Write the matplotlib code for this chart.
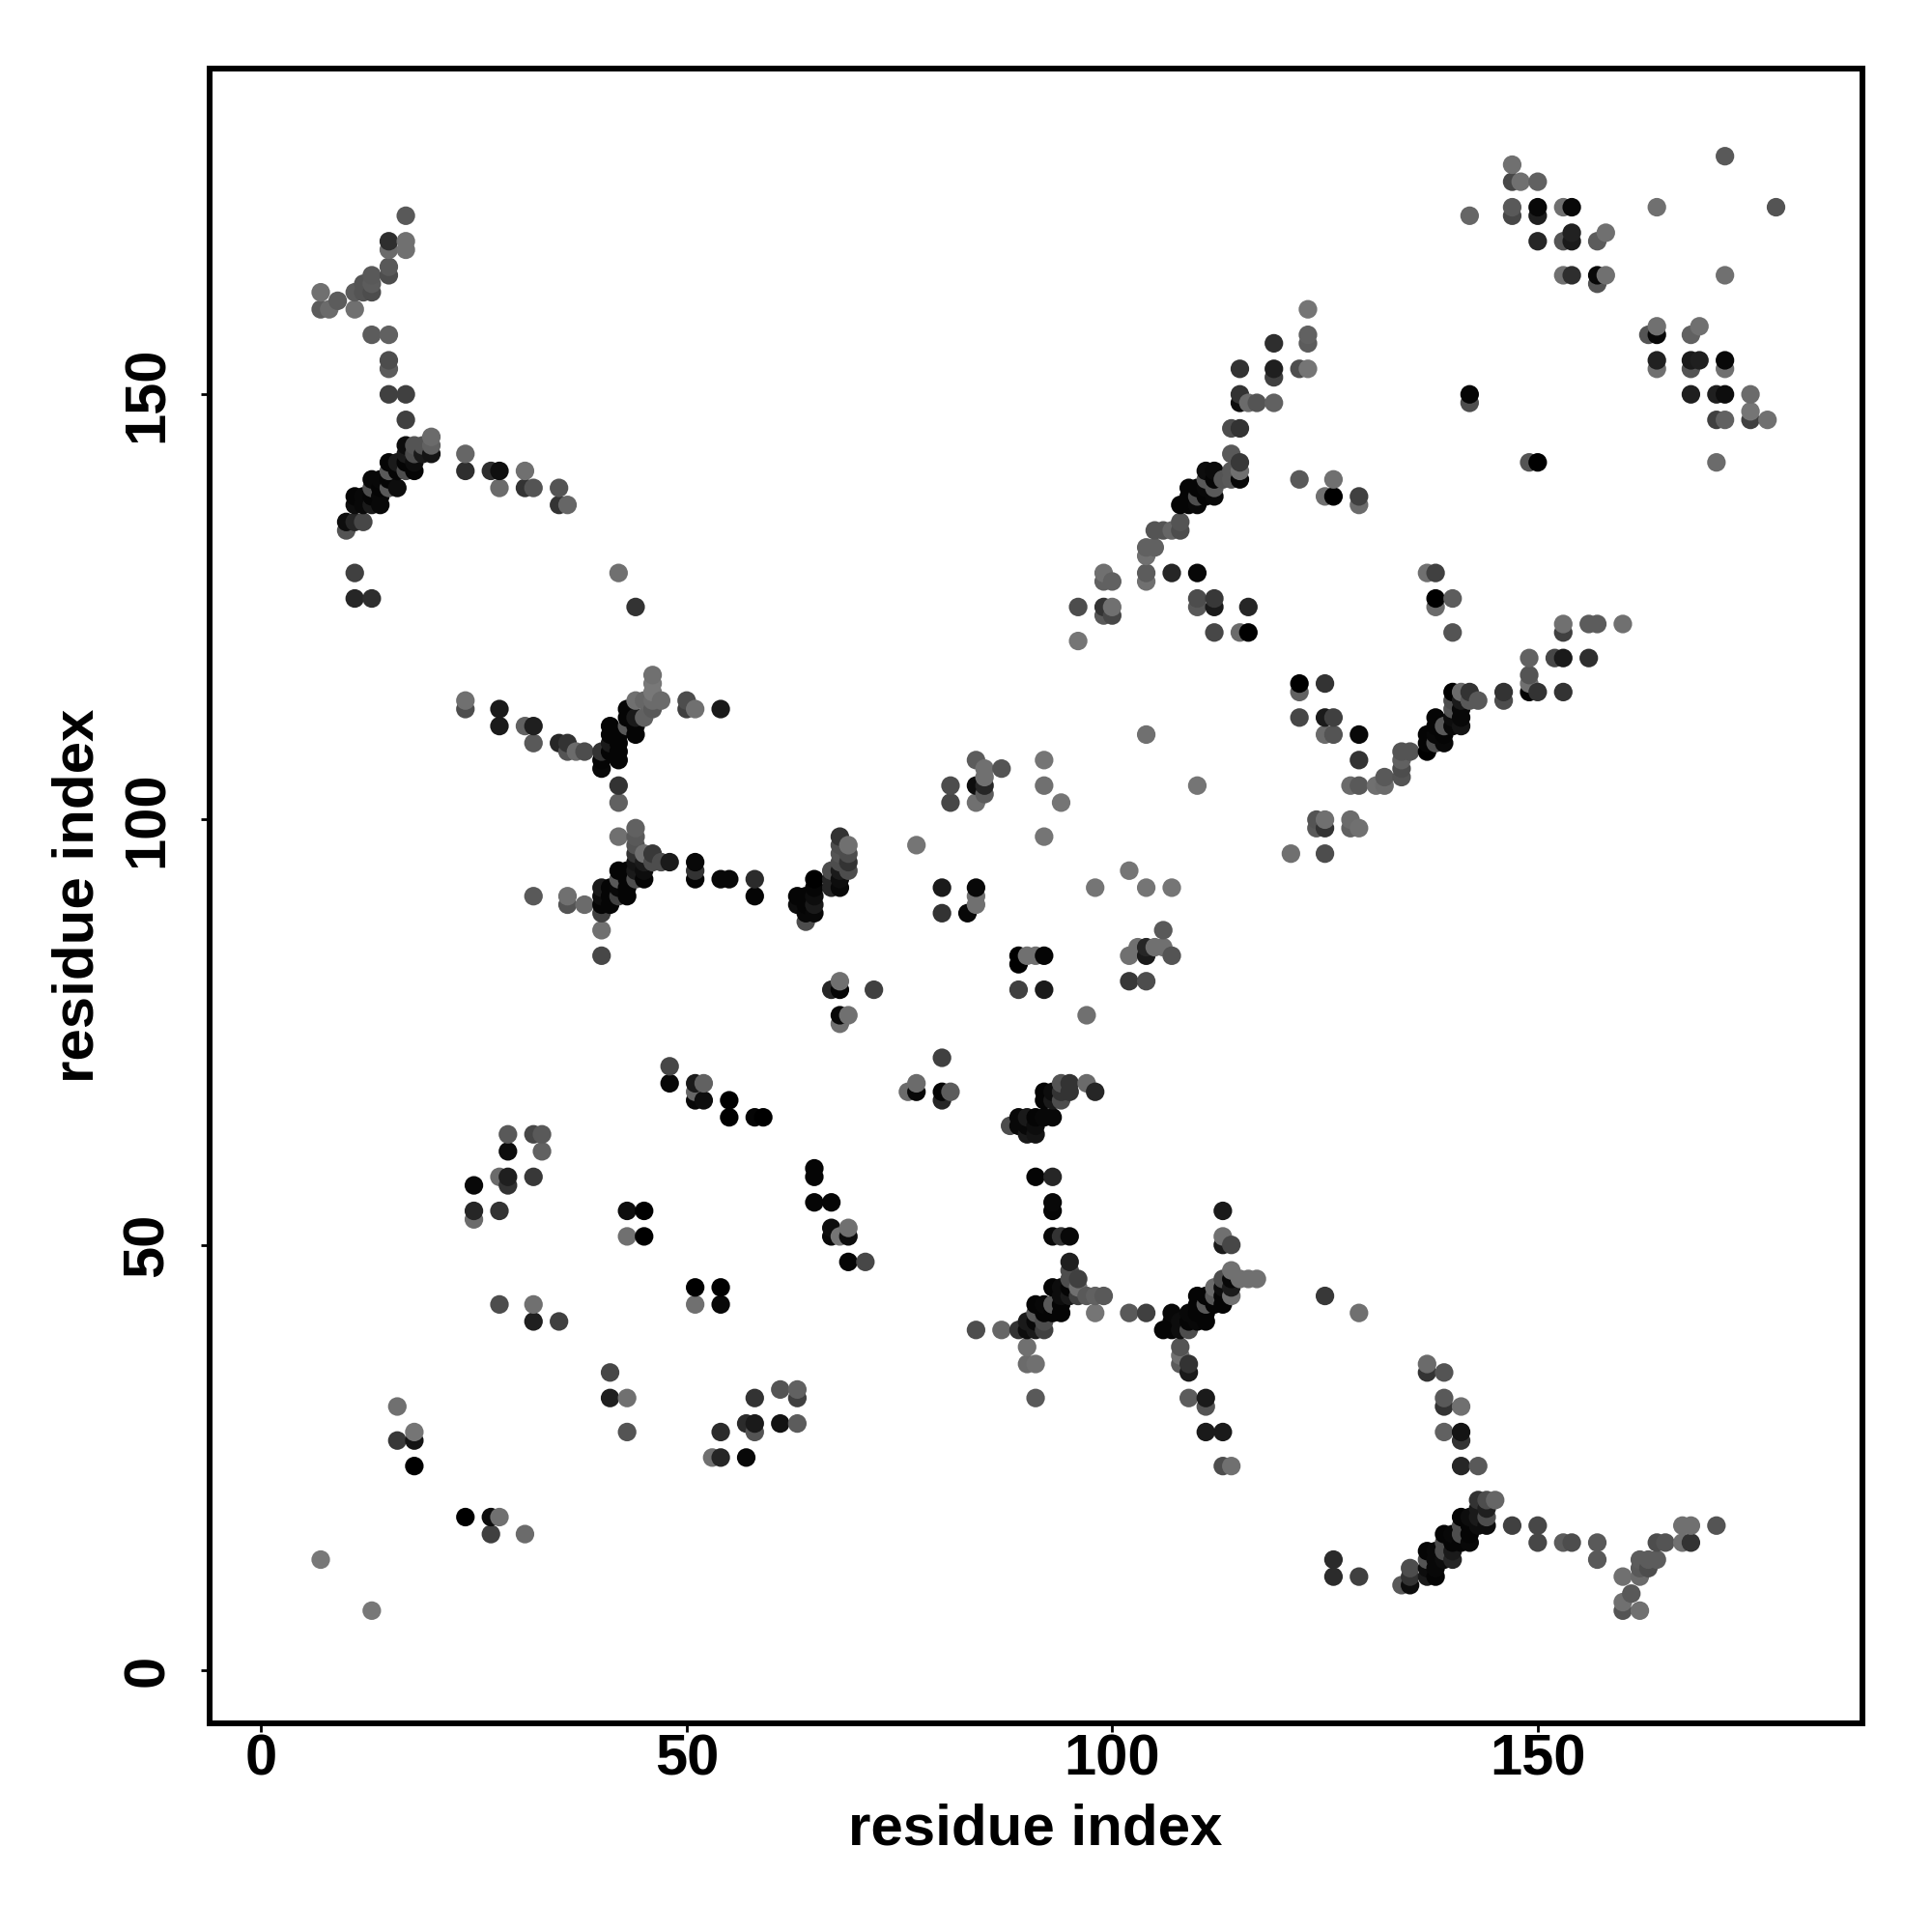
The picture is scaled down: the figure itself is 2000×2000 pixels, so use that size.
import matplotlib
matplotlib.use('Agg')
import matplotlib.pyplot as plt
import numpy as np

# (residue i, residue j, grey level), region by region
top_left = [(17,171,.35),(15,168,.18),(17,168,.44),(15,167,.42),(17,167,.44),(15,165,.35),(15,164,.3),
    (13,164,.35),(12,163,.33),(13,163,.36),(11,162,.36),(12,162,.33),(13,162,.3),(7,162,.44),(9,161,.36),
    (7,160,.36),(8,160,.42),(11,160,.44),(13,157,.36),(15,157,.38),(15,154,.3),(15,153,.36),(15,150,.25),
    (17,150,.25),(17,147,.25),(24,143,.4),(24,141,.18),(27,141,.18),(28,141,.06),(31,141,.44),(28,139,.42),
    (31,139,.2),(32,139,.33),(35,139,.33),(35,137,.2),(36,137,.4),(11,129,.25),(11,126,.15),(13,126,.18),
    (42,129,.44),(44,125,.2)]
top_left_helix = [(20,145,.42),(20,144,.38),(19,144,.33),(18,144,.33),(17,144,.05),(20,143,.08),(19,143,.1),
    (18,143,.3),(17,143,.1),(16,142,.1),(15,142,.02),(18,142,.05),(17,142,.02),(18,141,.02),(17,141,.3),
    (16,141,.02),(15,141,.35),(14,140,.03),(13,140,.03),(15,140,.02),(16,139,.05),(15,139,.35),(14,139,.02),
    (13,139,.3),(13,138,.02),(14,138,.03),(11,138,.02),(12,138,.03),(11,137,.05),(12,137,.03),(13,137,.1),
    (14,137,.03),(10,135,.05),(11,135,.15),(12,135,.28),(10,134,.33)]
upper_mid = [(123,160,.46),(123,157,.38),(123,156,.36),(119,156,.18),(115,153,.2),(119,153,.12),(119,152,.25),
    (122,153,.3),(123,153,.46),(115,150,.2),(115,149,.05),(116,149,.42),(117,149,.33),(119,149,.38),
    (114,146,.3),(115,146,.2),(114,143,.35),(115,142,.22),(115,141,.44),(115,140,.03),(114,141,.35),
    (114,140,.35),(122,140,.35),(108,135,.33),(108,134,.3),(107,134,.4),(106,134,.33),(105,134,.33),
    (105,132,.38),(104,132,.38),(104,131,.44),(104,129,.36),(104,128,.44),(107,129,.15),(110,129,.03),
    (99,129,.44),(99,128,.38),(100,128,.38),(96,125,.3),(99,125,.2),(100,125,.44),(99,124,.35),(100,124,.28),
    (110,126,.3),(110,125,.35),(112,126,.22),(112,125,.1),(116,125,.15),(112,122,.28),(115,122,.42),
    (116,122,.0),(96,121,.46)]
upper_mid_helix = [(111,141,.05),(112,141,.04),(112,140,.02),(113,140,.33),(111,140,.35),(109,139,.02),
    (110,139,.02),(111,139,.03),(112,139,.35),(109,138,.02),(110,138,.3),(111,138,.02),(112,138,.03),
    (108,137,.02),(109,137,.02),(110,137,.03)]
top_right = [(172,178,.35),(147,177,.44),(147,175,.28),(148,175,.44),(150,175,.38),(142,171,.4),(147,172,.35),
    (147,171,.28),(150,172,.03),(150,171,.12),(153,172,.44),(154,172,.03),(164,172,.44),(178,172,.33),
    (150,168,.15),(153,168,.33),(154,169,.13),(154,168,.1),(158,169,.44),(157,168,.36),(153,164,.44),
    (154,164,.18),(157,164,.03),(158,164,.44),(157,163,.33),(172,164,.44),(164,158,.44),(163,157,.33),
    (164,157,.03),(169,158,.44),(168,157,.38),(164,154,.13),(164,153,.44),(168,154,.1),(169,154,.12),
    (168,153,.33),(172,154,.03),(172,153,.44),(168,150,.12),(171,150,.12),(172,150,.05),(175,150,.42),
    (142,150,.02),(142,149,.3),(175,148,.46),(175,147,.25),(177,147,.44),(171,147,.25),(172,147,.38),
    (149,142,.33),(150,142,.0),(171,142,.42),(126,140,.44),(125,138,.44),(126,138,.0),(129,138,.25),
    (129,137,.42),(137,129,.44),(138,129,.25),(138,126,.0),(138,125,.42),(140,126,.36),(140,122,.33),
    (153,123,.44),(153,122,.25),(156,123,.36),(157,123,.36),(160,123,.44)]
mid_left = [(24,114,.44),(24,113,.3),(28,113,.1),(28,111,.1),(31,111,.38),(32,111,.12),(32,109,.35),(35,109,.15),
    (36,109,.2),(36,108,.33),(37,108,.42),(38,108,.3),(45,114,.4),(44,114,.44),(46,117,.44),(46,116,.47),
    (46,115,.47),(46,114,.42),(46,113,.35),(47,114,.42),(50,114,.3),(50,113,.25),(51,113,.44),(54,113,.1),
    (42,104,.2),(42,102,.38),(44,99,.38),(44,98,.35),(44,97,.33),(42,98,.44),(44,96,.2),(45,96,.44),
    (46,96,.22),(46,95,.3),(47,95,.3),(48,95,.1),(51,95,.03),(51,94,.2),(51,93,.02),(54,93,.03),(55,93,.03),
    (58,93,.17),(58,91,.02),(40,89,.25),(40,87,.44),(40,84,.28),(32,91,.35),(36,91,.44),(36,90,.33),(38,90,.42)]
mid_left_helix = [(40,108,.2),(40,107,.02),(40,106,.03),(41,111,.02),(41,110,.02),(41,109,.1),(41,108,.02),
    (42,107,.02),(42,109,.02),(42,110,.02),(42,108,.02),(43,113,.02),(43,112,.02),(43,111,.35),(44,112,.1),
    (44,111,.02),(44,110,.02),(45,112,.38),(44,95,.08),(45,95,.1),(42,94,.02),(43,94,.02),(44,94,.1),
    (45,94,.05),(42,93,.35),(43,93,.02),(44,93,.3),(45,93,.02),(40,92,.1),(41,92,.02),(42,92,.03),(43,92,.02),
    (40,91,.05),(41,91,.02),(42,91,.25),(43,91,.02),(40,90,.02),(41,90,.02)]
centre = [(122,116,.0),(122,115,.38),(122,112,.28),(125,116,.2),(125,112,.1),(126,112,.25),(125,110,.42),
    (126,110,.33),(129,110,.03),(104,110,.44),(84,107,.36),(85,106,.44),(87,106,.33),(85,105,.44),(84,104,.05),
    (85,104,.15),(81,104,.3),(81,102,.28),(84,102,.44),(85,103,.36),(92,107,.46),(92,104,.44),(94,102,.46),
    (110,104,.46),(92,98,.46),(77,97,.46),(80,92,.1),(84,92,.03),(84,91,.44),(84,90,.44),(80,89,.2),(83,89,.03),
    (98,92,.46),(102,94,.46),(104,92,.46),(107,92,.46),(106,87,.35),(102,84,.44),(103,85,.44),(104,85,.15),
    (104,84,.1),(105,85,.44),(106,85,.44),(107,84,.33),(102,81,.22),(104,81,.3),(89,84,.0),(90,84,.44),
    (91,84,.44),(92,84,.02),(89,83,.0),(89,80,.25),(92,80,.1),(97,77,.44),(68,81,.44),(67,80,.15),(68,80,.02),
    (72,80,.25),(68,77,.03),(69,77,.44),(68,76,.44),(80,72,.25),(76,68,.42),(77,69,.42),(77,68,.03),(80,68,.02),
    (81,68,.36),(80,67,.15),(94,69,.33),(95,69,.2),(97,69,.42),(98,68,.15)]
centre_clumps = [(68,98,.2),(68,97,.3),(69,97,.44),(68,96,.33),(69,96,.3),(69,95,.2),(69,94,.3),(68,95,.3),
    (68,94,.1),(67,94,.3),(67,93,.15),(68,93,.05),(67,92,.15),(68,92,.03),(65,93,.0),(65,92,.02),(63,91,.02),
    (64,91,.02),(65,91,.05),(63,90,.05),(64,90,.02),(65,90,.1),(64,89,.03),(65,89,.03),(64,88,.3),
    (92,68,.02),(92,67,.02),(93,68,.05),(93,67,.1),(94,68,.2),(94,67,.3),(95,68,.2),(93,65,.03),(92,65,.03),
    (91,65,.02),(90,65,.1),(89,65,.03),(89,64,.03),(88,64,.3),(90,64,.03),(91,64,.05),(90,63,.1),(91,63,.08)]
low_left = [(48,71,.28),(48,69,.03),(51,69,.1),(52,69,.38),(51,68,.4),(51,67,.03),(52,67,.05),(55,67,.0),(55,65,.0),
    (58,65,.02),(59,65,.0),(29,63,.35),(32,63,.28),(33,63,.35),(29,61,.05),(33,61,.38),(28,58,.42),(29,58,.12),
    (29,57,.2),(32,58,.22),(25,57,.03),(25,54,.15),(25,53,.42),(28,54,.2),(43,54,.05),(45,54,.0),(43,51,.44),
    (45,51,.0),(51,45,.0),(54,45,.0),(51,43,.44),(54,43,.03),(28,43,.3),(32,43,.44),(32,41,.12),(35,41,.25),
    (41,35,.28),(41,32,.12),(43,32,.44),(43,28,.33),(58,32,.2),(57,29,.17),(58,29,.1),(58,28,.33),(54,28,.17),
    (53,25,.44),(54,25,.15),(57,25,.03),(16,31,.44),(16,27,.22),(18,27,.08),(18,28,.46),(18,24,.0),(24,18,.0),
    (27,18,.05),(28,18,.44),(27,16,.25),(31,16,.42),(7,13,.47),(13,7,.47),(61,33,.33),(63,33,.38),(63,32,.25),
    (61,29,.07),(63,29,.36)]
low_mid = [(65,59,.02),(65,58,.02),(65,55,.02),(67,55,.02),(67,52,.05),(69,52,.44),(67,51,.03),(68,51,.46),
    (69,51,.05),(69,48,.02),(71,48,.28),(91,58,.02),(93,58,.15),(93,55,.03),(93,54,.02),(93,51,.03),(94,51,.2),
    (95,51,.03),(95,48,.12),(95,47,.3),(96,46,.25),(96,45,.44),(97,44,.35),(98,44,.38),(99,44,.35),(98,42,.46),
    (84,40,.3),(87,40,.4),(90,38,.44),(90,36,.42),(91,36,.44),(91,32,.35),(113,54,.1),(113,51,.44),(113,50,.1),
    (114,50,.28),(114,47,.44),(115,46,.44),(116,46,.44),(117,46,.44),(102,42,.35),(104,42,.25),(108,38,.33),
    (108,37,.44),(108,36,.36),(109,36,.2),(109,35,.1),(109,32,.36),(111,32,.1),(111,31,.33),(111,28,.1),
    (113,28,.1),(113,24,.3),(114,24,.44),(125,44,.22),(129,42,.44)]
low_mid_helix = [(95,46,.3),(93,45,.02),(94,45,.05),(95,45,.02),(94,44,.05),(95,44,.1),(96,44,.25),(91,43,.02),
    (92,43,.03),(93,43,.35),(94,43,.02),(91,42,.35),(92,42,.02),(93,42,.02),(94,42,.02),(90,41,.1),(91,41,.03),
    (92,41,.3),(89,40,.2),(90,40,.05),(91,40,.1),(92,40,.25),
    (113,46,.3),(114,46,.03),(112,45,.42),(113,45,.05),(114,45,.1),(114,44,.44),(113,44,.02),(112,44,.35),
    (110,44,.02),(111,44,.02),(110,43,.02),(111,43,.35),(112,43,.02),(113,43,.02),(107,42,.03),(109,42,.03),
    (110,42,.02),(111,42,.02),(107,41,.02),(108,41,.05),(109,41,.02),(110,41,.03),(111,41,.02),(106,40,.02),
    (107,40,.02),(108,40,.05),(109,40,.3)]
right_arm = [(125,96,.3),(121,96,.44),(124,100,.33),(124,99,.35),(125,100,.44),(125,99,.2),(128,100,.42),(128,99,.38),
    (129,99,.44),(129,107,.2),(128,104,.42),(129,104,.35),(131,104,.44),(132,104,.42),(132,105,.35),(134,108,.33),
    (135,108,.33),(134,107,.38),(134,106,.3),(134,105,.33),(146,115,.2),(146,114,.3),(149,119,.38),(149,117,.33),
    (149,116,.44),(149,115,.02),(150,115,.2),(152,119,.28),(153,119,.1),(156,119,.18),(153,115,.2)]
right_arm_helix = [(137,108,.0),(137,109,.02),(137,110,.02),(138,109,.3),(139,109,.03),(138,110,.03),(139,110,.02),
    (138,111,.02),(139,111,.35),(138,112,.02),(140,111,.03),(141,111,.08),(140,112,.05),(141,112,.03),
    (140,113,.33),(141,113,.03),(140,115,.0),(140,114,.3),(141,115,.42),(141,114,.1),(142,115,.2),(142,114,.35),
    (143,114,.35)]
low_right = [(137,36,.42),(137,35,.2),(139,35,.33),(139,32,.35),(139,31,.2),(141,31,.44),(139,28,.38),(141,28,.08),
    (141,27,.2),(141,24,.15),(143,24,.35),(147,17,.25),(150,17,.28),(150,15,.28),(153,15,.36),(154,15,.3),(157,15,.35),
    (157,13,.35),(164,15,.3),(165,15,.33),(167,17,.44),(168,17,.44),(171,17,.33),(167,15,.44),(168,15,.2),(162,13,.36),
    (163,13,.36),(164,13,.36),(162,12,.35),(163,12,.3),(162,11,.42),(160,11,.44),(161,9,.35),(160,8,.44),(160,7,.33),
    (162,7,.44),(126,13,.17),(126,11,.17),(129,11,.25),(135,12,.3),(135,11,.2),(135,10,.05),(134,10,.35)]
low_right_helix = [(143,20,.2),(144,20,.3),(145,20,.4),(143,19,.1),(144,19,.12),(144,18,.3),(141,18,.02),(142,18,.05),
    (143,18,.1),(144,17,.05),(143,17,.05),(141,17,.3),(142,17,.02),(139,16,.02),(140,16,.03),(141,16,.3),(142,16,.02),
    (139,15,.3),(140,15,.02),(141,15,.02),(142,15,.03),(137,14,.02),(138,14,.03),(139,14,.3),(140,14,.1),(137,13,.33),
    (138,13,.03),(139,13,.05),(140,13,.15),(137,12,.05),(138,12,.03),(137,11,.1),(138,11,.02)]

x_ticks = [0, 50, 100, 150]
y_ticks = [0, 50, 100, 150]

rows = (top_left + top_left_helix + upper_mid + upper_mid_helix + top_right + mid_left + mid_left_helix + centre
        + centre_clumps + low_left + low_mid + low_mid_helix + right_arm + right_arm_helix + low_right + low_right_helix)
pts = np.array(rows)
# drawn by column then row, that is what the overlaps in the picture show
order = np.lexsort((pts[:, 1], pts[:, 0]))
pts = pts[order]

plt.rcParams['font.family'] = ['Liberation Sans', 'DejaVu Sans']
fig = plt.figure(figsize=(10, 10), dpi=200)
ax = fig.add_axes([216.5 / 2000, 1 - 1784 / 2000, 1711 / 2000, 1713 / 2000])
ax.scatter(pts[:, 0], pts[:, 1], s=48, c=[str(g) for g in pts[:, 2]], linewidths=0, zorder=3)
ax.set_xlim(-6.11, 188.1)
ax.set_ylim(-6.25, 188.3)
ax.set_xticks(x_ticks)
ax.set_yticks(y_ticks)
ax.tick_params(length=3.2, width=1, labelsize=21.5)
ax.tick_params(axis='x', pad=0.6)
ax.tick_params(axis='y', pad=9.6)
for lab in ax.get_xticklabels():
    lab.set_fontweight('bold')
for lab in ax.get_yticklabels():
    lab.set_fontweight('bold')
    lab.set_rotation(90)
    lab.set_va('center')
for sp in ax.spines.values():
    sp.set_linewidth(2.16)
ax.set_xlabel('residue index', fontsize=21.6, fontweight='bold', labelpad=6.1)
ax.set_ylabel('residue index', fontsize=21.6, fontweight='bold', labelpad=6.2)
fig.savefig('out.png')
